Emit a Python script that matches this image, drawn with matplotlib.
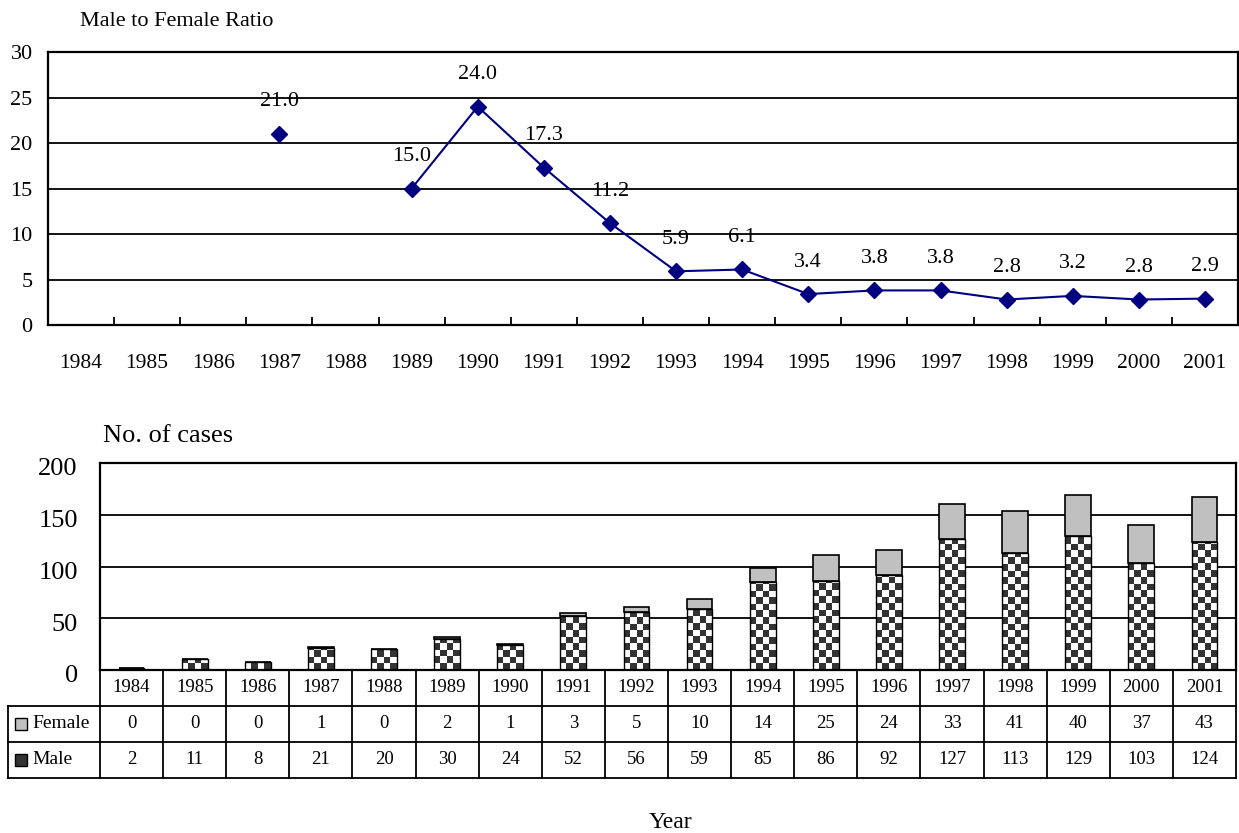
import numpy as np
import matplotlib
matplotlib.use('Agg')
import matplotlib.pyplot as plt
from matplotlib.colors import ListedColormap
from matplotlib.patches import Rectangle
from matplotlib.transforms import ScaledTranslation

# ===================== data =====================
YEARS = [str(y) for y in range(1984, 2002)]
# male to female ratio (nan = not defined)
RATIO = [np.nan, np.nan, np.nan, 21.0, np.nan, 15.0, 24.0, 17.3, 11.2,
         5.9, 6.1, 3.4, 3.8, 3.8, 2.8, 3.2, 2.8, 2.9]
FEMALE = [0, 0, 0, 1, 0, 2, 1, 3, 5, 10, 14, 25, 24, 33, 41, 40, 37, 43]
MALE = [2, 11, 8, 21, 20, 30, 24, 52, 56, 59, 85, 86, 92, 127, 113, 129, 103, 124]

plt.rcParams['font.family'] = ['Liberation Serif', 'DejaVu Serif']

W, H = 1239, 833
fig = plt.figure(figsize=(W / 100, H / 100), dpi=100)


def px_box(left, top, right, bottom):
    """pixel box -> figure fraction rect"""
    return [left / W, 1 - bottom / H, (right - left) / W, (bottom - top) / H]


x = np.arange(len(YEARS))
NAVY = '#000080'

# ===================== top: ratio line =====================
ax1 = fig.add_axes(px_box(48, 52, 1238, 325))
ax1.plot(x, RATIO, '-', color=NAVY, lw=1.5, marker='D', ms=8.5, mec=NAVY, mfc=NAVY, zorder=3)
for xi, r in zip(x, RATIO):
    if not np.isnan(r):
        ax1.annotate(f'{r:.1f}', (xi, r), xytext=(0, 23), textcoords='offset points',
                     ha='center', va='center', fontsize=16)
ax1.set_xlim(-0.5, len(YEARS) - 0.5)
ax1.set_ylim(0, 30)
ax1.set_yticks(range(0, 31, 5))
ax1.yaxis.grid(True, color='black', lw=1.3)
ax1.set_axisbelow(True)
ax1.set_xticks(x)
ax1.set_xticklabels(YEARS)
ax1.set_xticks(x[:-1] + 0.5, minor=True)
ax1.tick_params(axis='x', which='major', length=0, pad=21, labelsize=15.5)
ax1.tick_params(axis='x', which='minor', direction='in', length=6, width=1.3)
ax1.tick_params(axis='y', length=0, pad=11, labelsize=16)
for s in ax1.spines.values():
    s.set_linewidth(1.6)
fig.text(80 / W, 1 - 22 / H, 'Male to Female Ratio', fontsize=16, ha='left', va='center')

# ===================== bottom: stacked bars =====================
ax2 = fig.add_axes(px_box(100, 463, 1236, 670))
BW = 0.41
female_bars = ax2.bar(x, FEMALE, BW, bottom=MALE, color='#C0C0C0', edgecolor='black', lw=1.2, zorder=3)
male_bars = ax2.bar(x, MALE, BW, facecolor='none', edgecolor='black', lw=1.0, zorder=3)

# checkerboard fill for the male bars
checker = ListedColormap(['white', '#333333'])
cell_w = BW / 4
cell_h = 6.4
for p in male_bars:
    x0, y0 = p.get_x(), p.get_y()
    h = p.get_height()
    ny = int(np.ceil(h / cell_h)) + 1
    img = np.add.outer(np.arange(ny), np.arange(4)) % 2
    im = ax2.imshow(img, cmap=checker, vmin=0, vmax=1, origin='lower',
                    extent=(x0, x0 + 4 * cell_w, y0, y0 + ny * cell_h),
                    interpolation='nearest', aspect='auto', zorder=2.5)
    im.set_clip_path(p)

ax2.set_xlim(-0.5, len(YEARS) - 0.5)
ax2.set_ylim(0, 200)
ax2.set_yticks(range(0, 201, 50))
ax2.yaxis.grid(True, color='black', lw=1.3)
ax2.set_axisbelow(True)
ax2.set_xticks([])
ax2.tick_params(axis='y', length=0, pad=16, labelsize=19)
# labels sit a few pixels below their gridline in the original
shift = ScaledTranslation(0, -4 / 100, fig.dpi_scale_trans)
for lab in ax2.get_yticklabels():
    lab.set_transform(lab.get_transform() + shift)
for s in ax2.spines.values():
    s.set_linewidth(1.6)
fig.text(103 / W, 1 - 436 / H, 'No. of cases', fontsize=19, ha='left', va='center')

# ===================== data table =====================
tax = fig.add_axes(px_box(100, 670, 1236, 778), sharex=ax2)
tax.set_ylim(0, 3)
tax.axis('off')
cat_px = 1136 / len(YEARS)
lab_left = (8 - 100) / cat_px - 0.5
lw_t = 1.3
xl, xr = -0.5, len(YEARS) - 0.5
for yy in [0, 1, 2, 3]:
    tax.plot([lab_left if yy < 3 else xl, xr], [yy, yy], color='black', lw=lw_t, clip_on=False)
for xx in np.arange(len(YEARS) + 1) - 0.5:
    tax.plot([xx, xx], [0, 3], color='black', lw=lw_t, clip_on=False)
tax.plot([lab_left, lab_left], [0, 2], color='black', lw=lw_t, clip_on=False)

for xi, yr, f, m in zip(x, YEARS, FEMALE, MALE):
    tax.text(xi, 2.5, yr, ha='center', va='center', fontsize=13.5)
    tax.text(xi, 1.5, str(f), ha='center', va='center', fontsize=13.5)
    tax.text(xi, 0.5, str(m), ha='center', va='center', fontsize=13.5)

key_w = 12 / cat_px
key_h = 12 / 36
key_x = (15 - 100) / cat_px - 0.5
tax.add_patch(Rectangle((key_x, 1.5 - key_h / 2), key_w, key_h, facecolor='#C0C0C0',
                        edgecolor='black', lw=1.0, clip_on=False))
tax.add_patch(Rectangle((key_x, 0.5 - key_h / 2), key_w, key_h, facecolor='#333333',
                        edgecolor='black', lw=1.0, clip_on=False))
txt_x = (32 - 100) / cat_px - 0.5
tax.text(txt_x, 1.5, 'Female', ha='left', va='center', fontsize=14)
tax.text(txt_x, 0.5, 'Male', ha='left', va='center', fontsize=14)

fig.text(670 / W, 1 - 822 / H, 'Year', fontsize=17, ha='center', va='center')

fig.savefig('out.png', dpi=100)
